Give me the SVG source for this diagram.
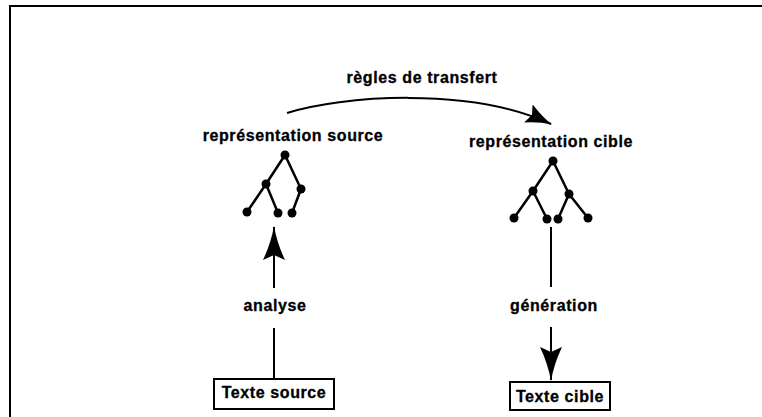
<svg xmlns="http://www.w3.org/2000/svg" width="762" height="417" viewBox="0 0 762 417">
<style>
text{font-family:"Liberation Sans",Arial,sans-serif;font-weight:bold;font-size:16px;letter-spacing:0.6px;fill:#000;stroke:#000;stroke-width:0.3;text-anchor:middle}
.ln{stroke:#000;stroke-width:2;fill:none}
.tr{stroke:#000;stroke-width:2.5;fill:none}
.dot{fill:#000}
.box{fill:#fff;stroke:#000;stroke-width:2}
</style>
<defs>
<marker id="ah" viewBox="0 0 34 22" refX="33" refY="11" markerWidth="34" markerHeight="22" markerUnits="userSpaceOnUse" orient="auto">
<path d="M0,0 Q17,8 34,11 Q17,14 0,22 L5,11 Z" fill="#000"/>
</marker>
<marker id="ahs" viewBox="0 0 26 20" refX="25" refY="10" markerWidth="26" markerHeight="20" markerUnits="userSpaceOnUse" orient="auto">
<path d="M0,0 Q13,7 26,10 Q13,13 0,20 L4,10 Z" fill="#000"/>
</marker>
</defs>
<rect width="762" height="417" fill="#fff"/>
<path class="ln" d="M10,417 V6 H762" stroke-width="2.5"/>

<g id="connectors">
<path class="ln" d="M287,113 C340,96 470,86 551,124" marker-end="url(#ahs)"/>
<path class="ln" d="M274,288 V227" marker-end="url(#ah)"/>
<path class="ln" d="M274,378 V328"/>
<path class="ln" d="M551,227 V287"/>
<path class="ln" d="M551,327 V380" marker-end="url(#ah)"/>
</g>

<g id="label-regles"><text x="422" y="83">règles de transfert</text></g>

<g id="representation-source">
<text x="293" y="141">représentation source</text>
<path class="tr" d="M285,155 L266,184 L247,212 M266,184 L278,213 M285,155 L301,189 L292,213"/>
<circle class="dot" cx="285" cy="155" r="4.5"/>
<circle class="dot" cx="266" cy="184" r="4.5"/>
<circle class="dot" cx="301" cy="189" r="4.5"/>
<circle class="dot" cx="247" cy="212" r="4.5"/>
<circle class="dot" cx="278" cy="213" r="4.5"/>
<circle class="dot" cx="292" cy="213" r="4.5"/>
</g>

<g id="representation-cible">
<text x="551" y="147">représentation cible</text>
<path class="tr" d="M553,161 L533,191 L514,218 M533,191 L547,219 M553,161 L569,194 L558,219 M569,194 L588,218"/>
<circle class="dot" cx="553" cy="161" r="4.5"/>
<circle class="dot" cx="533" cy="191" r="4.5"/>
<circle class="dot" cx="569" cy="194" r="4.5"/>
<circle class="dot" cx="514" cy="218" r="4.5"/>
<circle class="dot" cx="547" cy="219" r="4.5"/>
<circle class="dot" cx="558" cy="219" r="4.5"/>
<circle class="dot" cx="588" cy="218" r="4.5"/>
</g>

<g id="label-analyse"><text x="275" y="311">analyse</text></g>
<g id="label-generation"><text x="554" y="311">génération</text></g>

<g id="texte-source">
<rect class="box" x="214" y="379" width="120" height="30"/>
<text x="274" y="398">Texte source</text>
</g>
<g id="texte-cible">
<rect class="box" x="510" y="382" width="100" height="28"/>
<text x="560" y="402">Texte cible</text>
</g>
</svg>
